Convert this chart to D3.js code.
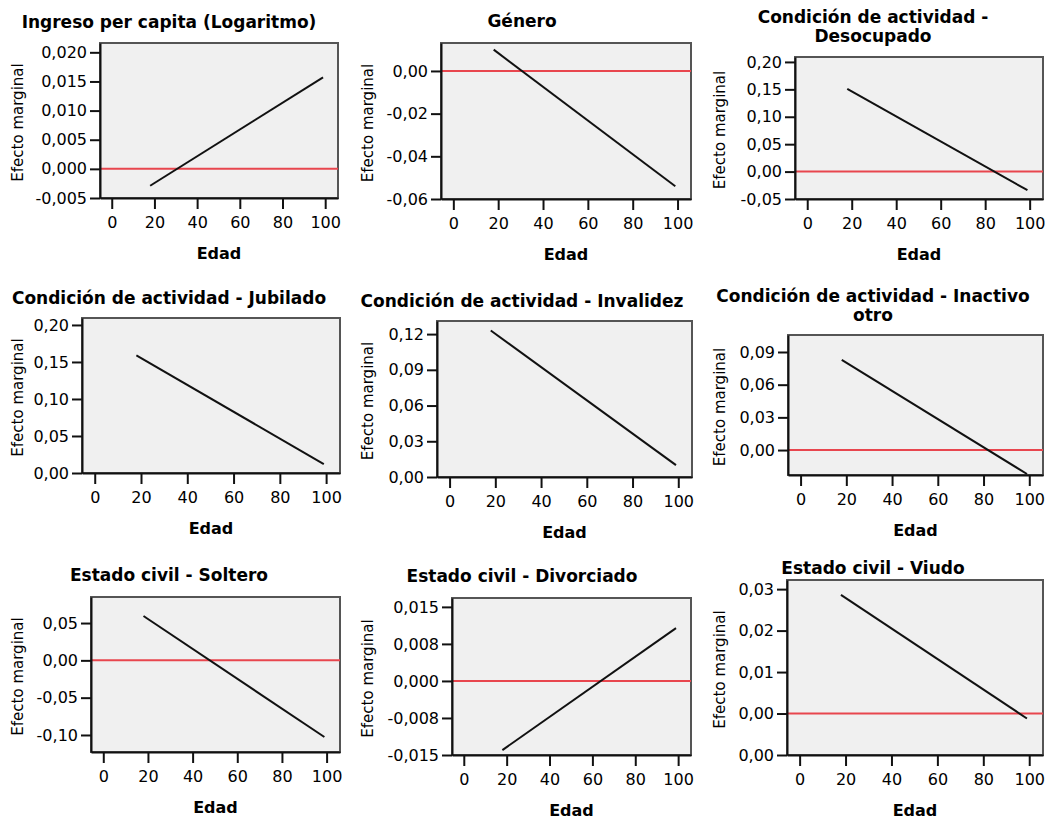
<!DOCTYPE html>
<html>
<head>
<meta charset="utf-8">
<script src="https://cdn.jsdelivr.net/npm/d3@7"></script>
<style>
body { margin: 0; background: #fff; }
svg { display: block; }
</style>
</head>
<body>
<div id="chart"></div>
<script>
// data
var ages = [18, 99];
var xTicks = [0, 20, 40, 60, 80, 100];

var titles = [
    ["Ingreso per capita (Logaritmo)"],
    ["Género"],
    ["Condición de actividad -", "Desocupado"],
    ["Condición de actividad - Jubilado"],
    ["Condición de actividad - Invalidez"],
    ["Condición de actividad - Inactivo", "otro"],
    ["Estado civil - Soltero"],
    ["Estado civil - Divorciado"],
    ["Estado civil - Viudo"]
];

var effIngreso = [-0.0029, 0.0157];
var effGenero = [0.0100, -0.0540];
var effDesocupado = [0.151, -0.034];
var effJubilado = [0.159, 0.012];
var effInvalidez = [0.123, 0.010];
var effInactivo = [0.0827, -0.022];
var effSoltero = [0.0594, -0.1027];
var effDivorciado = [-0.0140, 0.0107];
var effViudo = [0.0286, -0.0012];
var effects = [effIngreso, effGenero, effDesocupado, effJubilado, effInvalidez,
               effInactivo, effSoltero, effDivorciado, effViudo];

var yDomains = [
    [-0.005, 0.0216], [-0.06, 0.0131], [-0.05, 0.209],
    [0, 0.2094], [0, 0.131], [-0.0229, 0.1056],
    [-0.1228, 0.0849], [-0.015, 0.0168], [-0.01, 0.0322]
];
var yTicks = [
    [-0.005, 0, 0.005, 0.01, 0.015, 0.02],
    [-0.06, -0.04, -0.02, 0],
    [-0.05, 0, 0.05, 0.10, 0.15, 0.20],
    [0, 0.05, 0.10, 0.15, 0.20],
    [0, 0.03, 0.06, 0.09, 0.12],
    [0, 0.03, 0.06, 0.09],
    [-0.10, -0.05, 0, 0.05],
    [-0.015, -0.0075, 0, 0.0075, 0.015],
    [-0.01, 0, 0.01, 0.02, 0.03]
];
var yTickLabels = [
    ["-0,005", "0,000", "0,005", "0,010", "0,015", "0,020"],
    ["-0,06", "-0,04", "-0,02", "0,00"],
    ["-0,05", "0,00", "0,05", "0,10", "0,15", "0,20"],
    ["0,00", "0,05", "0,10", "0,15", "0,20"],
    ["0,00", "0,03", "0,06", "0,09", "0,12"],
    ["0,00", "0,03", "0,06", "0,09"],
    ["-0,10", "-0,05", "0,00", "0,05"],
    ["-0,015", "-0,008", "0,000", "0,008", "0,015"],
    ["0,00", "0,00", "0,01", "0,02", "0,03"]
];

// layout (pixels)
var xDomain = [-5.5, 106];
var boxes = [
    [100, 43, 338, 198], [441, 43, 691, 199], [795, 57, 1043, 199],
    [82, 318, 340, 473], [437, 321, 692, 477], [788, 335, 1043, 475],
    [91, 597, 340, 752], [452, 598, 691, 755], [787, 580, 1043, 755]
];
var titleX = [169, 522, 873];
var titleY = [28, 27, 23, 304, 307, 302, 581, 582, 574];
var yLabelX = [18, 368, 720];

var w = 1052;
var h = 820;

var svg = d3.select("#chart")
    .append("svg")
    .attr("width", w)
    .attr("height", h)
    .style("font-family", "'DejaVu Sans', sans-serif");

for (var i = 0; i < 9; i++) {
    var b = boxes[i];
    var col = i % 3;
    var x = d3.scaleLinear().domain(xDomain).range([b[0], b[2]]);
    var y = d3.scaleLinear().domain(yDomains[i]).range([b[3], b[1]]);
    var g = svg.append("g");

    g.append("rect")
        .attr("x", b[0])
        .attr("y", b[1])
        .attr("width", b[2] - b[0])
        .attr("height", b[3] - b[1])
        .attr("fill", "#f0f0f0")
        .attr("stroke", "#555")
        .attr("stroke-width", 2);

    // reference line at zero
    if (yDomains[i][0] < 0) {
        g.append("line")
            .attr("x1", b[0])
            .attr("x2", b[2])
            .attr("y1", y(0))
            .attr("y2", y(0))
            .attr("stroke", "#e8464e")
            .attr("stroke-width", 2);
    }

    var pts = ages.map(function(a, j) { return [a, effects[i][j]]; });
    g.append("path")
        .datum(pts)
        .attr("d", d3.line().x(function(d) { return x(d[0]); }).y(function(d) { return y(d[1]); }))
        .attr("fill", "none")
        .attr("stroke", "#111")
        .attr("stroke-width", 2);

    var labels = yTickLabels[i];
    var yAxis = g.append("g")
        .attr("transform", "translate(" + b[0] + ",0)")
        .call(d3.axisLeft(y)
            .tickValues(yTicks[i])
            .tickFormat(function(d, k) { return labels[k]; })
            .tickSize(10)
            .tickSizeOuter(0)
            .tickPadding(3));

    var xAxis = g.append("g")
        .attr("transform", "translate(0," + b[3] + ")")
        .call(d3.axisBottom(x)
            .tickValues(xTicks)
            .tickSize(11)
            .tickSizeOuter(0)
            .tickPadding(8));

    [yAxis, xAxis].forEach(function(ax) {
        ax.selectAll("path, line").attr("stroke", "#111").attr("stroke-width", 2);
        ax.selectAll("text")
            .attr("fill", "#000")
            .style("font-size", "16px")
            .style("font-family", "'DejaVu Sans', sans-serif");
    });

    // title
    var t = g.append("text")
        .attr("x", titleX[col])
        .attr("y", titleY[i])
        .attr("text-anchor", "middle")
        .style("font-weight", "bold")
        .style("font-size", "17px")
        .attr("fill", "#000");
    titles[i].forEach(function(line, k) {
        t.append("tspan")
            .attr("x", titleX[col])
            .attr("dy", k == 0 ? 0 : 19)
            .text(line);
    });

    // y label
    var cy = (b[1] + b[3]) / 2 + 2;
    g.append("text")
        .attr("transform", "translate(" + (yLabelX[col] + 5) + "," + cy + ") rotate(-90)")
        .attr("text-anchor", "middle")
        .style("font-size", "15px")
        .attr("fill", "#000")
        .text("Efecto marginal");

    // x label
    g.append("text")
        .attr("x", (b[0] + b[2]) / 2)
        .attr("y", b[3] + 61)
        .attr("text-anchor", "middle")
        .style("font-weight", "bold")
        .style("font-size", "16px")
        .attr("fill", "#000")
        .text("Edad");
}
</script>
</body>
</html>
